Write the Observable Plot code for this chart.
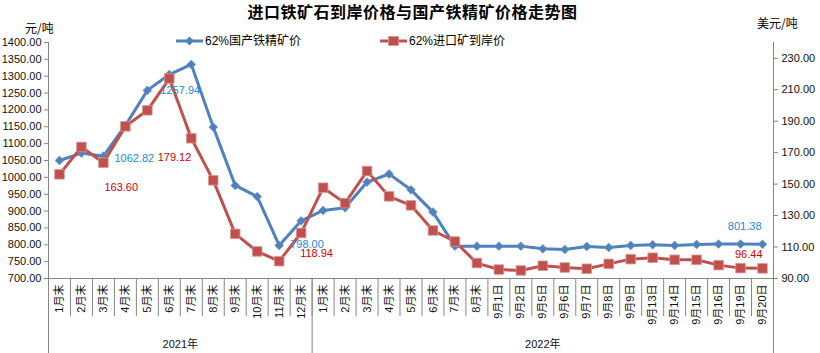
<!DOCTYPE html>
<html><head><meta charset="utf-8">
<script src="https://cdn.jsdelivr.net/npm/d3@7"></script>
<script src="https://cdn.jsdelivr.net/npm/@observablehq/plot@0.6"></script>
<style>
body{margin:0;background:#fff;}
#wrap{position:relative;width:820px;height:353px;font-family:"Liberation Sans","Noto Sans CJK SC",sans-serif;color:#000;}
.abs{position:absolute;white-space:nowrap;line-height:1;}
.leg{display:flex;align-items:center;height:14px;}
#wrap svg{display:block;}
</style></head><body><div id="wrap"></div>
<script>
// ---- data ----
const categories = ["1月末","2月末","3月末","4月末","5月末","6月末","7月末","8月末","9月末","10月末","11月末","12月末",
  "1月末","2月末","3月末","4月末","5月末","6月末","7月末","8月末",
  "9月1日","9月2日","9月5日","9月6日","9月7日","9月8日","9月9日","9月13日","9月14日","9月15日","9月16日","9月19日","9月20日"];
const years = ["2021年","2022年"];
const yearStart = [0, 12];   // first category index of each year
const yearEnd = [11, 32];    // last category index of each year
// 62%国产铁精矿价 (元/吨, left axis)
const domestic = [1050,1072,1062.82,1154,1257.94,1305,1335,1149,976,943,798.00,871,
  902,910,986,1010,963,897,796,796,
  796,796,788,786,795,792,798,800,798,801,802,802,801.38];
// 62%进口矿到岸价 (美元/吨, right axis)
const imported = [156.2,173.6,163.60,186.7,196.9,217.1,179.12,152.4,118.4,107.2,101.0,118.94,
  147.7,137.9,158.3,142.2,136.5,120.5,113.5,99.8,
  95.7,95.1,98.1,97.0,96.2,99.3,102.3,103.2,101.9,101.9,98.5,96.6,96.44];
const leftTicks = [700,750,800,850,900,950,1000,1050,1100,1150,1200,1250,1300,1350,1400];
const rightTicks = [90,110,130,150,170,190,210,230];
const leftDomain = [700,1400];
const rightDomain = [90,240];
// labelled points
const domLabels = [2,4,10,32];
const impLabels = [2,6,11,32];

// ---- chart ----
const n = categories.length;
const toLeft = v => leftDomain[0] + (v - rightDomain[0]) * (leftDomain[1]-leftDomain[0]) / (rightDomain[1]-rightDomain[0]);
const fromLeft = v => rightDomain[0] + (v - leftDomain[0]) * (rightDomain[1]-rightDomain[0]) / (leftDomain[1]-leftDomain[0]);
const rows = categories.map((c,i)=>({i, cat:c, dom:domestic[i], imp:imported[i], impY:toLeft(imported[i])}));
const BLUE = "#4F81BD", RED = "#C0504D", GRAY = "#868686";
const LBLUE = "#2389DA", LRED = "#D00000";
const domOff = {2:[11,2,"start"],4:[13,0,"start"],10:[11,-1,"start"],32:[-1,-18,"end"]};
const impOff = {2:[1,25,"start"],6:[0,19,"end"],11:[-1,21,"start"],32:[0,-14,"end"]};

const labelMarks = [];
for (const i of domLabels) {
  const [dx,dy,a] = domOff[i];
  labelMarks.push(Plot.text([rows[i]], {x:"i", y:"dom", text:d=>d.dom.toFixed(2), dx, dy, textAnchor:a, fill:LBLUE, fontSize:11}));
}
for (const i of impLabels) {
  const [dx,dy,a] = impOff[i];
  labelMarks.push(Plot.text([rows[i]], {x:"i", y:"impY", text:d=>d.imp.toFixed(2), dx, dy, textAnchor:a, fill:LRED, fontSize:11}));
}

const plot = Plot.plot({
  width:820, height:353, marginLeft:48, marginRight:47, marginTop:42, marginBottom:75,
  style:{fontFamily:'"Liberation Sans","Noto Sans CJK SC",sans-serif', fontSize:"11px", color:"#000", background:"transparent", overflow:"visible"},
  x:{type:"linear", domain:[-0.5, n-0.5], axis:null},
  y:{domain:leftDomain, axis:null},
  marks:[
    Plot.axisY(leftTicks, {anchor:"left", tickFormat:d=>d.toFixed(2), tickSize:4, tickPadding:3, stroke:GRAY, fill:"#111", label:null}),
    Plot.axisY(rightTicks.map(toLeft), {anchor:"right", tickFormat:v=>fromLeft(v).toFixed(2), tickSize:4, tickPadding:4, stroke:GRAY, fill:"#111", label:null}),
    Plot.axisX(d3.range(n), {anchor:"bottom", tickSize:0, tickPadding:6, tickRotate:-90, tickFormat:i=>categories[i], fill:"#111", label:null}),
    Plot.axisX(d3.range(0.5, n-1, 1), {anchor:"bottom", tickSize:38, tickFormat:()=>"", stroke:GRAY, label:null}),
    Plot.axisX([-0.5, yearEnd[0]+0.5, n-0.5], {anchor:"bottom", tickSize:75, tickFormat:()=>"", stroke:GRAY, label:null}),
    Plot.ruleX([-0.5, n-0.5], {stroke:GRAY}),
    Plot.ruleY([leftDomain[0]], {stroke:GRAY}),
    Plot.lineY(rows, {x:"i", y:"dom", stroke:BLUE, strokeWidth:3}),
    Plot.dot(rows, {x:"i", y:"dom", symbol:"diamond2", r:4, fill:BLUE, stroke:"#6E97C8", strokeWidth:0.6}),
    Plot.lineY(rows, {x:"i", y:"impY", stroke:RED, strokeWidth:3}),
    Plot.dot(rows, {x:"i", y:"impY", symbol:"square", r:5.4, fill:RED, stroke:"#D99694", strokeWidth:0.8}),
    ...labelMarks,
    Plot.text(years, {x:(d,k)=>(yearStart[k]+yearEnd[k])/2, y:leftDomain[0], dy:66, text:d=>d, fill:"#111", fontSize:11})
  ]
});
const wrap = document.getElementById("wrap");
wrap.appendChild(plot);

function addDiv(html, css, cls){ const d=document.createElement("div"); d.className="abs" + (cls?" "+cls:""); d.innerHTML=html; Object.assign(d.style, css); wrap.appendChild(d); return d; }
addDiv("进口铁矿石到岸价格与国产铁精矿价格走势图", {left:"0px", width:"825px", textAlign:"center", top:"3px", fontSize:"16px", fontWeight:"bold", letterSpacing:"0.5px", fontFamily:'"Noto Sans CJK SC",sans-serif'});
addDiv("元/吨", {left:"25px", top:"22px", fontSize:"12px", fontFamily:'"Noto Sans CJK SC",sans-serif'});
addDiv("美元/吨", {left:"757px", top:"17px", fontSize:"12px", fontFamily:'"Noto Sans CJK SC",sans-serif'});
const blueSw = `<svg width="27" height="12"><line x1="0" y1="6" x2="27" y2="6" stroke="${BLUE}" stroke-width="3"/><path d="M13.5 1.5 L18 6 L13.5 10.5 L9 6Z" fill="${BLUE}"/></svg>`;
const redSw = `<svg width="27" height="12"><line x1="0" y1="6" x2="27" y2="6" stroke="${RED}" stroke-width="3"/><rect x="8.5" y="1.5" width="10" height="9" fill="${RED}" stroke="#D99694" stroke-width="0.8"/></svg>`;
addDiv(blueSw + `<span style="margin-left:2px">62%国产铁精矿价</span>`, {left:"176px", top:"34px", fontSize:"12px", fontFamily:'"Liberation Sans","Noto Sans CJK SC",sans-serif'}, "leg");
addDiv(redSw + `<span style="margin-left:2px">62%进口矿到岸价</span>`, {left:"380px", top:"34px", fontSize:"12px", fontFamily:'"Liberation Sans","Noto Sans CJK SC",sans-serif'}, "leg");
</script>
</body></html>
